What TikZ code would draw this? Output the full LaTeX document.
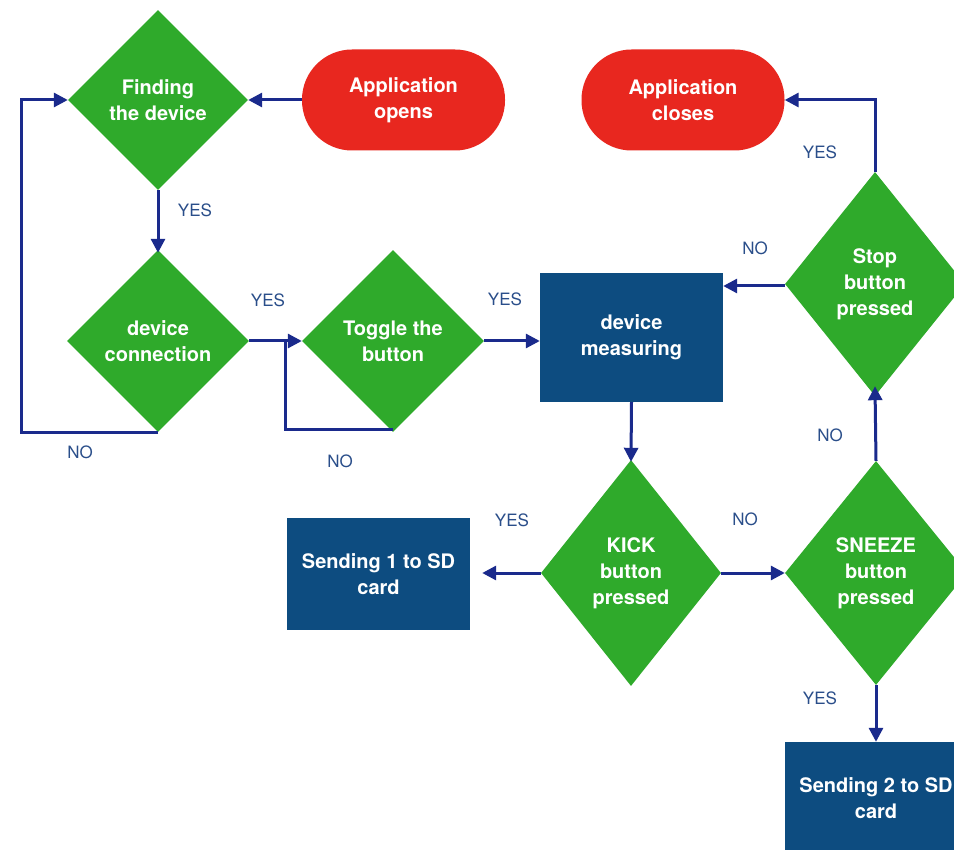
\documentclass[tikz,border=0pt]{standalone}
\usepackage{fontspec}
\setmainfont{TeX Gyre Heros}
\usetikzlibrary{shapes.geometric,arrows.meta}

\definecolor{decgreen}{HTML}{2FAA2B}
\definecolor{termred}{HTML}{E8271F}
\definecolor{procblue}{HTML}{0D4C80}
\definecolor{flownavy}{HTML}{1A2A8C}
\definecolor{labelblue}{HTML}{2A4E8A}

\tikzset{
  boxtext/.style={text=white, font=\bfseries\fontsize{20}{26}\selectfont, align=center, inner sep=0pt},
  decision/.style={boxtext, diamond, fill=decgreen, minimum width=#1},
  terminal/.style={boxtext, rectangle, rounded corners=50pt, fill=termred, minimum width=203pt, minimum height=101pt},
  process/.style={boxtext, rectangle, fill=procblue},
  flow/.style={draw=flownavy, line width=3pt},
  arr/.style={flow, -{Triangle[length=14pt,width=14pt]}},
  answer/.style={text=labelblue, font=\fontsize{17}{20}\selectfont, inner sep=0pt},
}

\begin{document}
\begin{tikzpicture}[x=1pt, y=-1pt]
  \useasboundingbox (0,0) rectangle (954,850);
  \clip (0,0) rectangle (954,850);
  \fill[white] (0,0) rectangle (954,850);

  % terminals
  \node[terminal] (open)  at (403.5,100) {Application\\opens};
  \node[terminal] (close) at (683,100)   {Application\\closes};

  % decisions
  \node[decision=180pt, minimum height=180pt] (find)   at (158,100) {Finding\\the device};
  \node[decision=182pt, minimum height=182pt] (conn)   at (158,341) {device\\connection};
  \node[decision=182pt, minimum height=182pt] (toggle) at (393,341) {Toggle the\\button};
  \node[decision=180pt, minimum height=224pt] (stop)   at (875,284) {Stop\\button\\pressed};
  \node[decision=180pt, minimum height=226pt] (kick)   at (631,573) {KICK\\button\\pressed};
  \node[decision=182pt, minimum height=224pt] (sneeze) at (876,573) {SNEEZE\\button\\pressed};

  % processes
  \node[process, minimum width=183pt, minimum height=129pt] (meas)  at (631.5,337.5) {device\\measuring};
  \node[process, minimum width=183pt, minimum height=112pt] (send1) at (378.5,574)   {Sending 1 to SD\\card};
  \node[process, minimum width=183pt, minimum height=112pt] (send2) at (876,798)     {Sending 2 to SD\\card};

  % loop-back columns
  \coordinate (leftrail) at (21,0);
  \coordinate (togglerail) at (285,0);

  % connectors
  \draw[arr] (open.west) -- (find.east);
  \draw[arr] (find.south) -- ([yshift=-3pt]conn.north);
  \draw[arr] (conn.south) -| (leftrail |- find.west) -- (find.west);
  \draw[arr] (conn.east) -- (toggle.west);
  \draw[flow] ([yshift=3pt]toggle.south) -| (togglerail |- toggle.west);
  \draw[arr] (toggle.east) -- (toggle.east -| meas.west);
  \draw[arr] ([yshift=-2pt]stop.west) -- ([yshift=-2pt]stop.west -| meas.east);
  \draw[arr] (stop.north) |- (close.east);
  \draw[arr] (meas.south) -- ([yshift=-2pt]kick.north);
  \draw[arr] (kick.west) -- ([xshift=12pt]kick.west -| send1.east);
  \draw[arr] (kick.east) -- (sneeze.west);
  \draw[arr] (sneeze.north) -- ([yshift=10pt]stop.south);
  \draw[arr] (sneeze.south) -- (send2.north);

  % branch answers
  \node[answer] (a1)  at (195,210) {YES};
  \node[answer] (a2)  at (268,300) {YES};
  \node[answer] (a3)  at (80,452)  {NO};
  \node[answer] (a4)  at (340,461) {NO};
  \node[answer] (a5)  at (505,299) {YES};
  \node[answer] (a6)  at (755,248) {NO};
  \node[answer] (a7)  at (820,152) {YES};
  \node[answer] (a8)  at (512,520) {YES};
  \node[answer] (a9)  at (745,519) {NO};
  \node[answer] (a10) at (830,435) {NO};
  \node[answer] (a11) at (820,698) {YES};
\end{tikzpicture}
\end{document}
